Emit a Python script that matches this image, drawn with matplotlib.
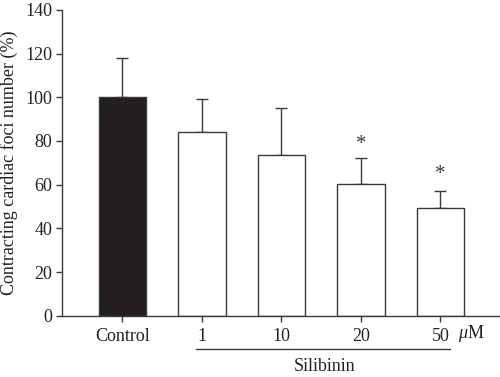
import matplotlib
matplotlib.use("Agg")
import matplotlib.pyplot as plt

categories = ["Control", "1", "10", "20", "50"]
values = [100, 84, 73.5, 60.2, 49.3]
err_upper = [18, 15, 21.5, 12, 7.8]
significant = [False, False, False, True, True]
star_y = [None, None, None, 78.5, 64.5]

plt.rcParams['font.family'] = ['Liberation Serif', 'DejaVu Serif']
plt.rcParams['mathtext.fontset'] = 'custom'
plt.rcParams['mathtext.it'] = 'Liberation Serif:italic'
plt.rcParams['mathtext.rm'] = 'Liberation Serif'
line_col = '#3a3a3a'
text_col = '#222222'
fs = 13

fig = plt.figure(figsize=(5.0, 3.77), dpi=100)
ax = fig.add_axes([0.124, 0.1626, 0.876, 0.811])

x = list(range(len(categories)))
colors = ['#231f20'] + ['white'] * (len(categories) - 1)
ax.bar(x, values, width=0.6, color=colors, edgecolor=line_col, linewidth=1.0, zorder=2)
ax.errorbar(x, values, yerr=[[0]*len(x), err_upper], fmt='none', ecolor=line_col,
            elinewidth=1.0, capsize=4.5, capthick=1.0, zorder=1)

for xi, s, sy in zip(x, significant, star_y):
    if s:
        ax.text(xi, sy, '*', ha='center', va='center', fontsize=15, color=line_col)

ax.set_xlim(-0.76, 4.75)
ax.set_ylim(0, 140)
ax.set_yticks(range(0, 141, 20))
ax.set_xticks(x)
ax.set_xticklabels(categories)
ax.tick_params(axis='both', direction='out', length=4, width=1.0, color=line_col,
               labelsize=fs, labelcolor=text_col)
ax.tick_params(axis='x', pad=5)
ax.tick_params(axis='y', pad=3)
for side in ['top', 'right']:
    ax.spines[side].set_visible(False)
for side in ['left', 'bottom']:
    ax.spines[side].set_color(line_col)
    ax.spines[side].set_linewidth(1.0)

ax.set_ylabel('Contracting cardiac foci number (%)', fontsize=fs, color=text_col, labelpad=5)

xt = ax.get_xaxis_transform()
ax.text(4.22, -0.073, r'$\mathit{\mu}$M', transform=xt, ha='left', va='baseline',
        fontsize=fs, color=text_col)
ax.plot([0.93, 4.12], [-0.109, -0.109], transform=xt, color=line_col,
        lw=1.0, clip_on=False)
ax.text(2.54, -0.18, 'Silibinin', transform=xt, ha='center', va='baseline',
        fontsize=fs, color=text_col)

fig.savefig('out.png', dpi=100)
